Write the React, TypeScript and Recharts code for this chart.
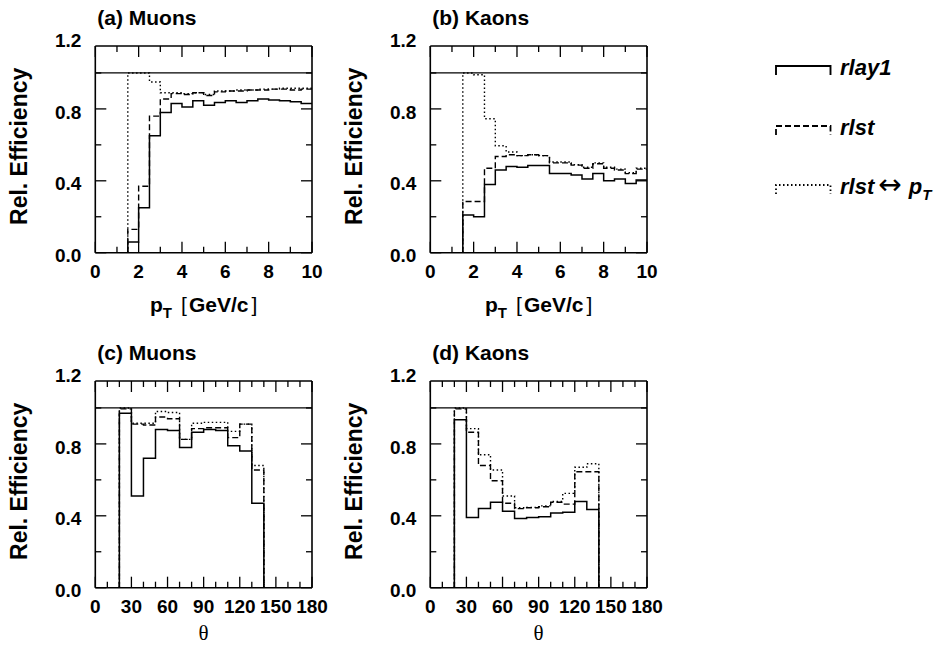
import React from "react";
import { LineChart, Line, XAxis, YAxis, ReferenceLine } from "recharts";

// bin edges (left edge of each bin, last entry closes the final bin)
const ptEdges = [1.5, 2, 2.5, 3, 3.5, 4, 4.5, 5, 5.5, 6, 6.5, 7, 7.5, 8, 8.5, 9, 9.5, 10];
const thetaEdges = [20, 30, 40, 50, 60, 70, 80, 90, 100, 110, 120, 130, 140];

const ptTicks = [0, 1, 2, 3, 4, 5, 6, 7, 8, 9, 10];
const ptLabels = [0, 2, 4, 6, 8, 10];
const thetaTicks = [0, 10, 20, 30, 40, 50, 60, 70, 80, 90, 100, 110, 120, 130, 140, 150, 160, 170, 180];
const thetaLabels = [0, 30, 60, 90, 120, 150, 180];
const effTicks = [0, 0.2, 0.4, 0.6, 0.8, 1.0, 1.2];
const effLabels = [0, 0.4, 0.8, 1.2];

const seriesNames = ["rlay1", "rlst", "rlst ↔ pT"];

// (a) Muons vs pT
const muPtRlay1 = [0.06, 0.25, 0.65, 0.78, 0.83, 0.81, 0.845, 0.82, 0.835, 0.845, 0.835, 0.845, 0.855, 0.85, 0.845, 0.84, 0.83];
const muPtRlst = [0.13, 0.37, 0.76, 0.855, 0.885, 0.88, 0.89, 0.875, 0.895, 0.9, 0.9, 0.905, 0.905, 0.91, 0.91, 0.905, 0.91];
const muPtSwap = [1.0, 1.0, 0.95, 0.89, 0.89, 0.885, 0.89, 0.88, 0.9, 0.9, 0.905, 0.905, 0.91, 0.91, 0.915, 0.915, 0.915];

// (b) Kaons vs pT
const kPtRlay1 = [0.21, 0.2, 0.38, 0.46, 0.48, 0.475, 0.485, 0.485, 0.44, 0.44, 0.432, 0.41, 0.44, 0.4, 0.41, 0.385, 0.405];
const kPtRlst = [0.285, 0.285, 0.47, 0.535, 0.545, 0.54, 0.545, 0.54, 0.5, 0.5, 0.487, 0.47, 0.495, 0.47, 0.46, 0.44, 0.465];
const kPtSwap = [1.0, 0.99, 0.745, 0.595, 0.56, 0.54, 0.545, 0.54, 0.505, 0.505, 0.49, 0.475, 0.5, 0.475, 0.465, 0.445, 0.47];

// (c) Muons vs theta
const muThRlay1 = [0.97, 0.51, 0.72, 0.88, 0.875, 0.78, 0.865, 0.88, 0.875, 0.79, 0.76, 0.47];
const muThRlst = [0.995, 0.91, 0.905, 0.95, 0.94, 0.825, 0.885, 0.89, 0.89, 0.835, 0.91, 0.655];
const muThSwap = [1.0, 0.915, 0.915, 0.98, 0.975, 0.825, 0.915, 0.92, 0.92, 0.87, 0.91, 0.68];

// (d) Kaons vs theta
const kThRlay1 = [0.935, 0.39, 0.44, 0.475, 0.425, 0.385, 0.39, 0.395, 0.415, 0.42, 0.48, 0.435];
const kThRlst = [0.995, 0.865, 0.68, 0.595, 0.47, 0.44, 0.445, 0.45, 0.475, 0.465, 0.645, 0.645];
const kThSwap = [1.0, 0.885, 0.74, 0.655, 0.51, 0.445, 0.447, 0.455, 0.48, 0.525, 0.67, 0.69];

// histogram rows for stepAfter lines; dropToZero closes the last bin down to the axis
const histRows = (edges: number[], sets: number[][], dropToZero: boolean) => {
  const rows: any[] = [{ x: edges[0], s0: 0, s1: 0, s2: 0 }];
  edges.forEach((e, i) => {
    const last = i === edges.length - 1;
    const row: any = { x: e };
    sets.forEach((vals, k) => {
      row[`s${k}`] = last ? (dropToZero ? 0 : vals[i - 1]) : vals[i];
    });
    rows.push(row);
  });
  return rows;
};

const W = 334;
const H = 334;
const M = { left: 95.3, right: 22, top: 46, bottom: 81.3 };
const FONT = '"Liberation Sans", Arial, Helvetica, sans-serif';
const INK = "#000";
const YMAX = 1.15;

const lineStyles = [
  { dash: undefined, width: 1.5 },
  { dash: "6 3", width: 1.4 },
  { dash: "1.5 2.5", width: 1.4 },
];

const isMajorEff = (v: number) => Math.round(v * 10) % 4 === 0;

const BottomTick = (p: any) => {
  const v = p.payload.value;
  const len = p.major(v) ? 11 : 6;
  return (
    <g>
      <line x1={p.x} y1={p.y} x2={p.x} y2={p.y - len} stroke={INK} strokeWidth={1.3} />
      {p.labels.includes(v) && (
        <text x={p.x} y={p.y + 25.5} textAnchor="middle" fontFamily={FONT} fontWeight="bold" fontSize={19} fill={INK}>
          {v}
        </text>
      )}
    </g>
  );
};

const TopTick = (p: any) => {
  const len = p.major(p.payload.value) ? 11 : 6;
  return <line x1={p.x} y1={p.y} x2={p.x} y2={p.y + len} stroke={INK} strokeWidth={1.3} />;
};

const LeftTick = (p: any) => {
  const v = p.payload.value;
  const len = isMajorEff(v) ? 11 : 6;
  return (
    <g>
      {v <= 1 && <line x1={p.x} y1={p.y} x2={p.x + len} y2={p.y} stroke={INK} strokeWidth={1.3} />}
      {effLabels.includes(v) && (
        <text x={p.x - 14} y={p.y + 9.6} textAnchor="end" fontFamily={FONT} fontWeight="bold" fontSize={19} fill={INK}>
          {v.toFixed(1)}
        </text>
      )}
    </g>
  );
};

const RightTick = (p: any) => {
  const v = p.payload.value;
  if (v > 1) return <g />;
  const len = isMajorEff(v) ? 11 : 6;
  return <line x1={p.x - len} y1={p.y} x2={p.x} y2={p.y} stroke={INK} strokeWidth={1.3} />;
};

const ptTitle = (
  <text x={M.left + (W - M.left - M.right) / 2} y={311.5} textAnchor="middle" fontFamily={FONT} fontWeight="bold" fontSize={21} fill={INK}>
    <tspan>p</tspan>
    <tspan fontSize={15} dy={6}>T</tspan>
    <tspan dx={9} dy={-6} fontWeight="normal">[</tspan>
    <tspan dx={2}>GeV/c</tspan>
    <tspan dx={3} fontWeight="normal">]</tspan>
  </text>
);

const thetaTitle = (
  <text x={M.left + (W - M.left - M.right) / 2} y={304.5} textAnchor="middle" fontFamily='"Liberation Serif", "Times New Roman", serif' fontSize={21} fill={INK}>
    θ
  </text>
);

interface PanelProps {
  title: string;
  rows: any[];
  xTicks: number[];
  xLabels: number[];
  xMax: number;
  major: (v: number) => boolean;
  xTitle: React.ReactNode;
  left: number;
  top: number;
}

const Panel = ({ title, rows, xTicks, xLabels, xMax, major, xTitle, left, top }: PanelProps) => (
  <div style={{ position: "absolute", left, top, width: W, height: H }}>
    <LineChart width={W} height={H} data={rows} margin={{ top: 0, right: 0, bottom: 0, left: 0 }}>
      <XAxis
        xAxisId="b"
        type="number"
        dataKey="x"
        domain={[0, xMax]}
        ticks={xTicks}
        interval={0}
        allowDataOverflow
        height={M.bottom}
        tickSize={0}
        tickMargin={0}
        tickLine={false}
        axisLine={{ stroke: INK, strokeWidth: 1.6 }}
        tick={(p: any) => <BottomTick {...p} major={major} labels={xLabels} />}
        label={() => xTitle}
      />
      <XAxis
        xAxisId="t"
        orientation="top"
        type="number"
        dataKey="x"
        domain={[0, xMax]}
        ticks={xTicks}
        interval={0}
        allowDataOverflow
        height={M.top}
        tickSize={0}
        tickMargin={0}
        tickLine={false}
        axisLine={{ stroke: INK, strokeWidth: 1.6 }}
        tick={(p: any) => <TopTick {...p} major={major} />}
        label={() => (
          <text x={M.left + 2} y={25} fontFamily={FONT} fontWeight="bold" fontSize={21} fill={INK}>
            {title}
          </text>
        )}
      />
      <YAxis
        yAxisId="l"
        type="number"
        domain={[0, YMAX]}
        ticks={effTicks}
        interval={0}
        allowDataOverflow
        width={M.left}
        tickSize={0}
        tickMargin={0}
        tickLine={false}
        axisLine={{ stroke: INK, strokeWidth: 1.6 }}
        tick={(p: any) => <LeftTick {...p} />}
        label={() => (
          <text
            x={27.5}
            y={M.top + (H - M.top - M.bottom) / 2 - 3}
            transform={`rotate(-90 27.5 ${M.top + (H - M.top - M.bottom) / 2 - 3})`}
            textAnchor="middle"
            fontFamily={FONT}
            fontWeight="bold"
            fontSize={23}
            fill={INK}
          >
            Rel. Efficiency
          </text>
        )}
      />
      <YAxis
        yAxisId="r"
        orientation="right"
        type="number"
        domain={[0, YMAX]}
        ticks={effTicks}
        interval={0}
        allowDataOverflow
        width={M.right}
        tickSize={0}
        tickMargin={0}
        tickLine={false}
        axisLine={{ stroke: INK, strokeWidth: 1.6 }}
        tick={(p: any) => <RightTick {...p} />}
      />
      <ReferenceLine xAxisId="b" yAxisId="l" y={1} stroke={INK} strokeWidth={1.3} />
      {seriesNames
        .map((n, k) => (
          <Line
            key={n}
            xAxisId="b"
            yAxisId="l"
            type="stepAfter"
            dataKey={`s${k}`}
            name={n}
            stroke={INK}
            strokeWidth={lineStyles[k].width}
            strokeDasharray={lineStyles[k].dash}
            dot={false}
            activeDot={false}
            isAnimationActive={false}
          />
        ))
        .reverse()}
    </LineChart>
  </div>
);

const LegendSample = ({ y, k, name }: { y: number; k: number; name: string }) => {
  const [main, rest] = name.split(" ↔ ");
  return (
    <g>
      <path
        d={`M776 ${y + 9} V${y} H830.5 V${y + 9}`}
        fill="none"
        stroke={INK}
        strokeWidth={lineStyles[k].width + 0.4}
        strokeDasharray={lineStyles[k].dash}
      />
      <text x={840} y={y + 9} fontFamily={FONT} fontWeight="bold" fontStyle="italic" fontSize={22} fill={INK}>
        <tspan>{main}</tspan>
        {rest && (
          <>
            <tspan dx={4} fontWeight="normal" fontStyle="normal" fontFamily='"DejaVu Sans", sans-serif' fontSize={28}>
              ↔
            </tspan>
            <tspan dx={7}>p</tspan>
            <tspan fontSize={15} dy={6}>T</tspan>
          </>
        )}
      </text>
    </g>
  );
};

const legendRows = [66, 126, 185];

export default function App() {
  const colX = [0, 334.7];
  const rowY = [0, 334.5];
  return (
    <div style={{ position: "absolute", left: 0, top: 0, width: 946, height: 645, background: "#fff" }}>
      <Panel
        title="(a) Muons"
        rows={histRows(ptEdges, [muPtRlay1, muPtRlst, muPtSwap], false)}
        xTicks={ptTicks}
        xLabels={ptLabels}
        xMax={10}
        major={(v) => v % 2 === 0}
        xTitle={ptTitle}
        left={colX[0]}
        top={rowY[0]}
      />
      <Panel
        title="(b) Kaons"
        rows={histRows(ptEdges, [kPtRlay1, kPtRlst, kPtSwap], false)}
        xTicks={ptTicks}
        xLabels={ptLabels}
        xMax={10}
        major={(v) => v % 2 === 0}
        xTitle={ptTitle}
        left={colX[1]}
        top={rowY[0]}
      />
      <Panel
        title="(c) Muons"
        rows={histRows(thetaEdges, [muThRlay1, muThRlst, muThSwap], true)}
        xTicks={thetaTicks}
        xLabels={thetaLabels}
        xMax={180}
        major={(v) => v % 30 === 0}
        xTitle={thetaTitle}
        left={colX[0]}
        top={rowY[1]}
      />
      <Panel
        title="(d) Kaons"
        rows={histRows(thetaEdges, [kThRlay1, kThRlst, kThSwap], true)}
        xTicks={thetaTicks}
        xLabels={thetaLabels}
        xMax={180}
        major={(v) => v % 30 === 0}
        xTitle={thetaTitle}
        left={colX[1]}
        top={rowY[1]}
      />
      <svg width={946} height={230} style={{ position: "absolute", left: 0, top: 0, pointerEvents: "none" }}>
        {seriesNames.map((n, k) => (
          <LegendSample key={n} y={legendRows[k]} k={k} name={n} />
        ))}
      </svg>
    </div>
  );
}
